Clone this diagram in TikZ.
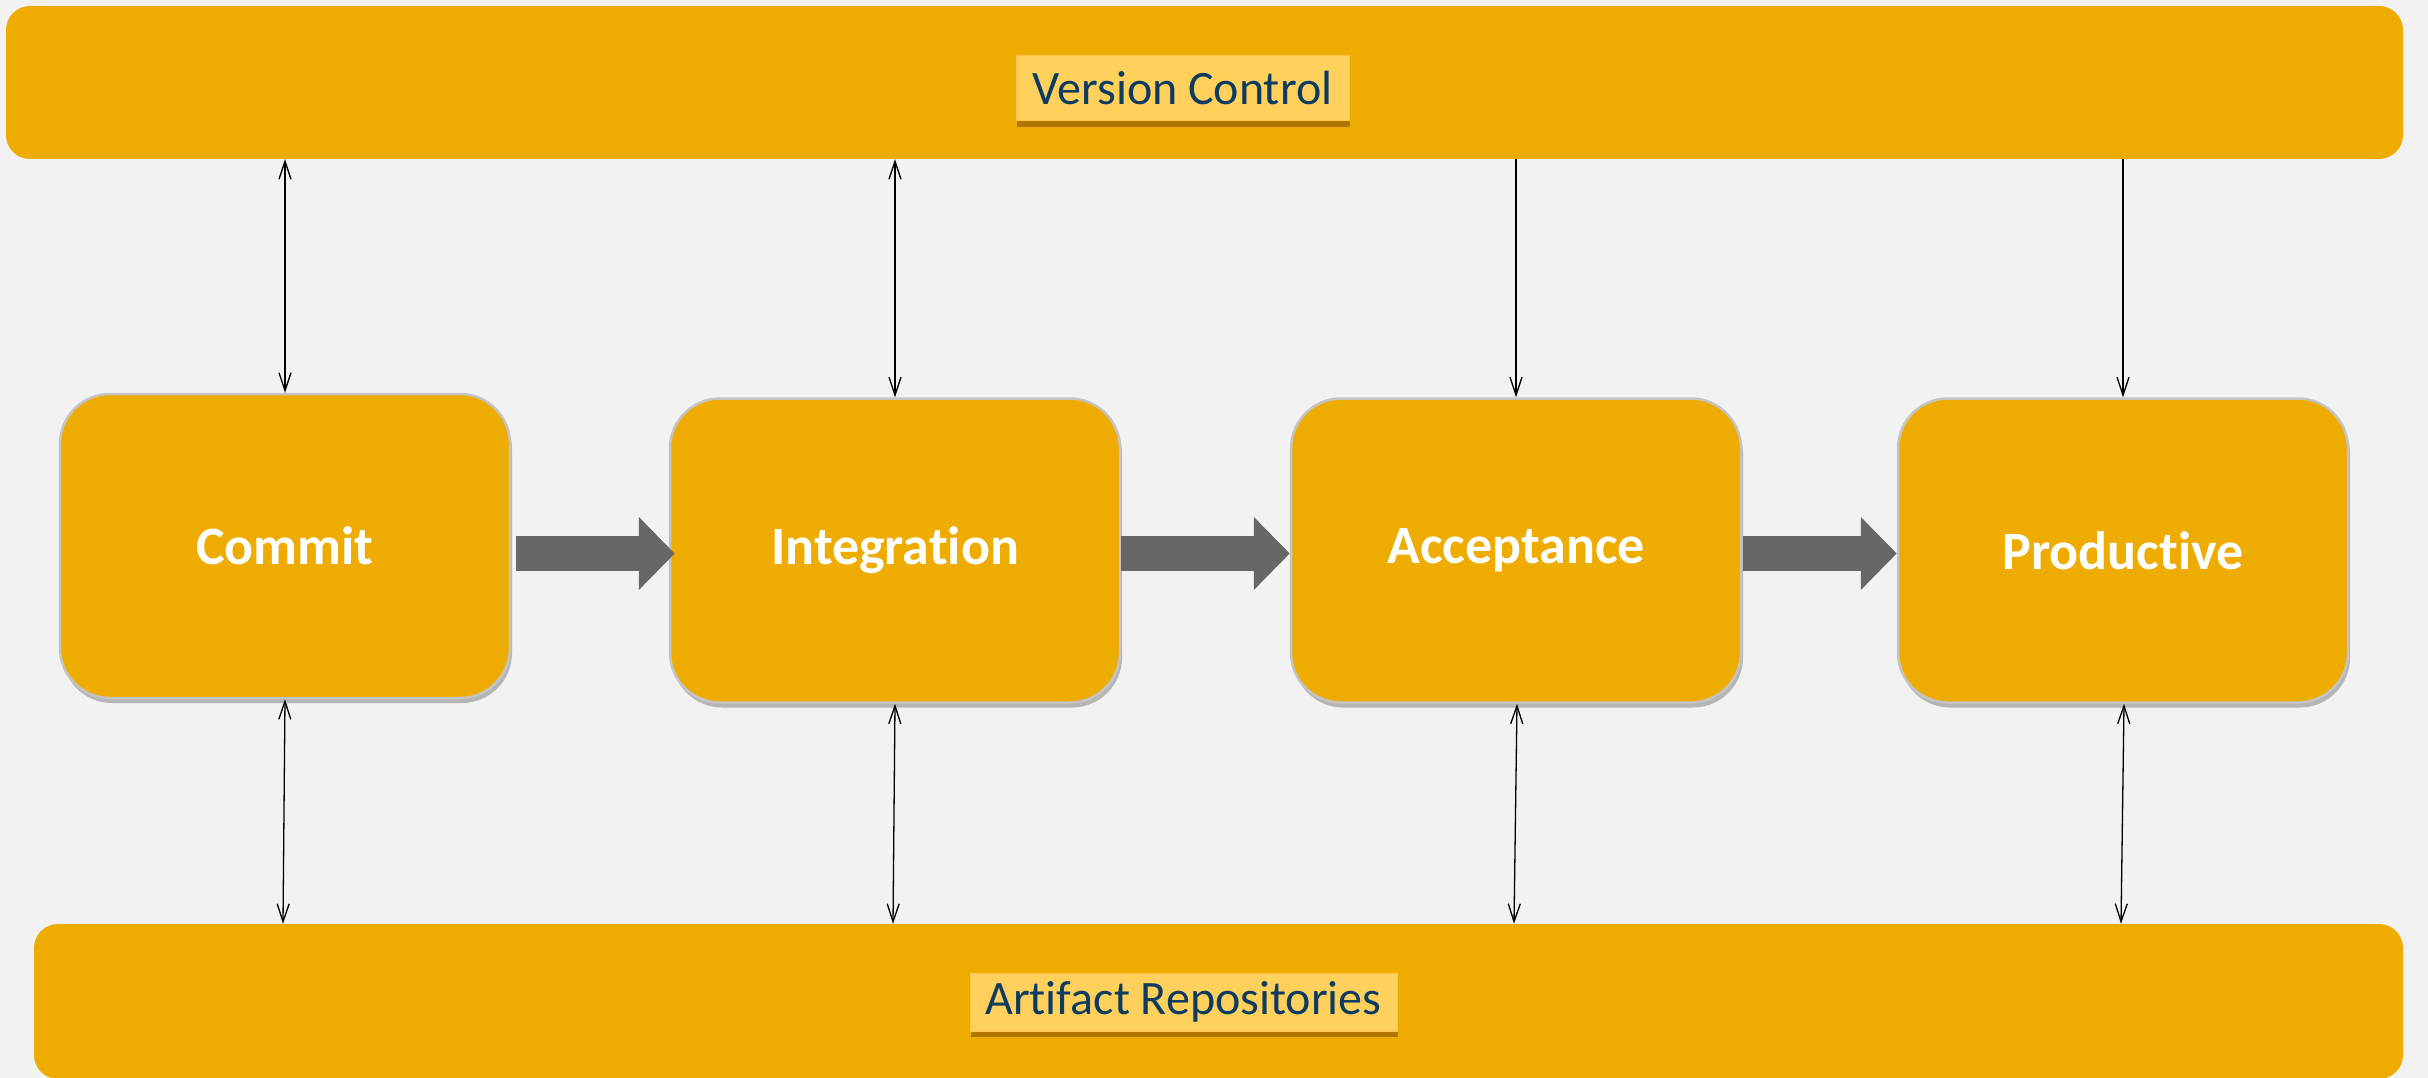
\documentclass[tikz,border=0pt]{standalone}
\usepackage{fontspec}
\setmainfont{Carlito}[RawFeature={-liga}]
\usetikzlibrary{arrows.meta,shadows,calc}
\definecolor{bg}{HTML}{F2F2F2}
\definecolor{gold}{HTML}{EFAC00}
\definecolor{labelfill}{HTML}{FFD05C}
\definecolor{labeltext}{HTML}{0E3B60}
\definecolor{arrowgray}{HTML}{676767}
\definecolor{boxborder}{HTML}{C4C4C4}
\begin{document}
\begin{tikzpicture}[x=1pt,y=-1pt,
  bar/.style={rectangle, fill=gold, rounded corners=24pt, inner sep=0pt},
  tag/.style={rectangle, fill=labelfill, draw=labelfill!85!orange, line width=1pt, inner sep=0pt,
    text=labeltext, font=\fontsize{48}{56}\selectfont,
    drop shadow={shadow xshift=1pt, shadow yshift=-6pt, fill=black!60!orange, opacity=0.45}},
  stage/.style={rectangle, fill=gold, draw=boxborder, line width=2.5pt, rounded corners=50pt,
    minimum width=450pt, minimum height=304pt, inner sep=0pt,
    text=white, font=\bfseries\fontsize{54}{62}\selectfont,
    drop shadow={shadow xshift=2pt, shadow yshift=-5pt, fill=black, opacity=0.25}},
  link/.style={line width=1.3pt, draw=black},
  both/.style={link, {Straight Barb[length=18pt,width=12pt]}-{Straight Barb[length=18pt,width=12pt]}},
  down/.style={link, -{Straight Barb[length=18pt,width=12pt]}},
  flow/.style={line width=35pt, draw=arrowgray, -{Triangle[length=36pt,width=71pt]}}
]
\fill[bg] (0,0) rectangle (2428,1078);
\useasboundingbox (0,0) rectangle (2428,1078);

% bars
\node[bar, minimum width=2397pt, minimum height=153pt] (vcbar) at (1204.5,82.5) {};
\node[bar, minimum width=2369pt, minimum height=155pt] (arbar) at (1218.5,1001.5) {};
\node[tag, minimum width=333pt, minimum height=65pt] (vc) at (1182.5,88.5) {Version Control};
\node[tag, minimum width=427pt, minimum height=58pt] (ar) at (1183.5,1002) {Artifact Repositories};

% stages
\node[stage] (commit) at (285,546) {Commit};
\node[stage] (integ) at (895,550.5) {Integration};
\node[stage] (accept) at (1516,550.5) {Acceptance};
\node[stage] (prod) at (2123,550.5) {Productive};

% block arrows
\draw[flow] ($(commit.east)+(5,7.5)$) -- ($(integ.west)+(6,3)$);
\draw[flow] ($(integ.east)+(0,3)$) -- ($(accept.west)+(0,3)$);
\draw[flow] ($(accept.east)+(1,3)$) -- ($(prod.west)+(0,3)$);

% version control links
\draw[both] (commit.north |- vcbar.south) -- (commit.north);
\draw[both] (integ.north |- vcbar.south) -- (integ.north);
\draw[down] (accept.north |- vcbar.south) -- (accept.north);
\draw[down] (prod.north |- vcbar.south) -- (prod.north);

% artifact links
\draw[both] (commit.south) -- ($(commit.south |- arbar.north)+(-2,0)$);
\draw[both] (integ.south) -- ($(integ.south |- arbar.north)+(-2,0)$);
\draw[both] ($(accept.south)+(1,0)$) -- ($(accept.south |- arbar.north)+(-2,0)$);
\draw[both] ($(prod.south)+(1,0)$) -- ($(prod.south |- arbar.north)+(-2,0)$);
\end{tikzpicture}
\end{document}
